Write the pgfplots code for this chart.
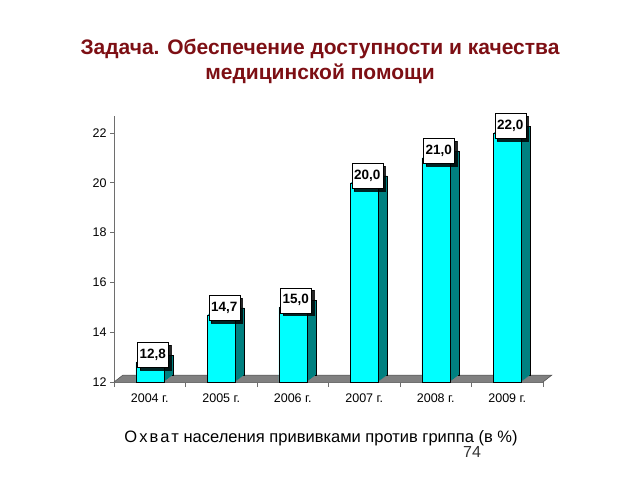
\documentclass[border=0pt]{standalone}
\usepackage{pgfplots}
\pgfplotsset{compat=1.18}
\usepackage{fontspec}
\setmainfont{Liberation Sans}
\usetikzlibrary{shadows}
\definecolor{titlered}{RGB}{125,15,20}
\definecolor{barcyan}{RGB}{0,255,255}
\definecolor{barside}{RGB}{0,128,128}
\definecolor{floorgray}{RGB}{128,128,128}
\definecolor{axgray}{RGB}{110,110,110}
\begin{document}
\begin{tikzpicture}[x=1pt,y=1pt]
\path[use as bounding box] (0,0) rectangle (640,480);
\node[font=\bfseries\fontsize{21}{25}\selectfont, text=titlered, align=center, anchor=base] at (320,400) {Задача. Обеспечение доступности и качества\\медицинской помощи};
\begin{axis}[
  at={(114pt,98pt)}, anchor=south west,
  scale only axis, width=429pt, height=266.4pt,
  xmin=-0.5, xmax=5.5, ymin=12, ymax=22.7,
  axis x line=bottom, axis y line=left,
  axis line style={axgray, line width=0.8pt, -},
  xtick={0,...,5},
  xticklabels={2004 г., 2005 г., 2006 г., 2007 г., 2008 г., 2009 г.},
  major x tick style={draw=none},
  minor xtick={-0.5,0.5,...,5.5},
  minor x tick style={axgray, line width=0.8pt},
  minor tick length=5pt,
  ytick={12,14,...,22},
  major tick length=4pt,
  tick align=outside,
  y tick style={axgray, line width=0.8pt},
  tick label style={font=\fontsize{12.5}{14}\selectfont},
  xticklabel style={yshift=-4pt},
  /pgf/number format/assume math mode=true,
  ybar, bar width=28pt,
  clip=false,
]
% floor
\fill[floorgray] (axis cs:-0.5,12) -- (axis cs:5.5,12) -- ([shift={(9pt,7pt)}]axis cs:5.5,12) -- ([shift={(9pt,7pt)}]axis cs:-0.5,12) -- cycle;
\draw[black!70, line width=0.5pt] (axis cs:-0.5,12) -- ([shift={(9pt,7pt)}]axis cs:-0.5,12) -- ([shift={(9pt,7pt)}]axis cs:5.5,12) -- (axis cs:5.5,12);
% side faces
\addplot[fill=barside, draw=black, line width=0.5pt, bar shift=9pt, yshift=7pt] coordinates {(0,12.8) (1,14.7) (2,15.0) (3,20.0) (4,21.0) (5,22.0)};
\pgfplotsinvokeforeach{8,7,6,5,4,3,2,1}{
\addplot[fill=barside, draw=none, bar shift=#1pt, yshift=#1*0.78pt] coordinates {(0,12.8) (1,14.7) (2,15.0) (3,20.0) (4,21.0) (5,22.0)};
}
% front faces
\addplot[fill=barcyan, draw=black, line width=0.5pt, bar shift=0pt,
  nodes near coords={\pgfmathprintnumber[fixed, fixed zerofill, precision=1, use comma]{\pgfplotspointmeta}},
  every node near coord/.append style={anchor=center, xshift=3pt, yshift=7pt,
    fill=white, draw=black, line width=0.5pt, minimum width=31pt, minimum height=25pt, inner sep=1pt,
    font=\bfseries\fontsize{13.5}{15}\selectfont,
    drop shadow={shadow xshift=2.5pt, shadow yshift=-2.5pt, fill=black, opacity=0.85}}
] coordinates {(0,12.8) (1,14.7) (2,15.0) (3,20.0) (4,21.0) (5,22.0)};
\end{axis}
\node[font=\fontsize{16.5}{18}\selectfont, anchor=base] at (321,38) {О\kern2pt х\kern2pt в\kern2pt а\kern2pt т населения прививками против гриппа (в \%)};
\node[font=\fontsize{16}{18}\selectfont, anchor=base, text=black!80] at (472,23) {74};
\end{tikzpicture}
\end{document}
